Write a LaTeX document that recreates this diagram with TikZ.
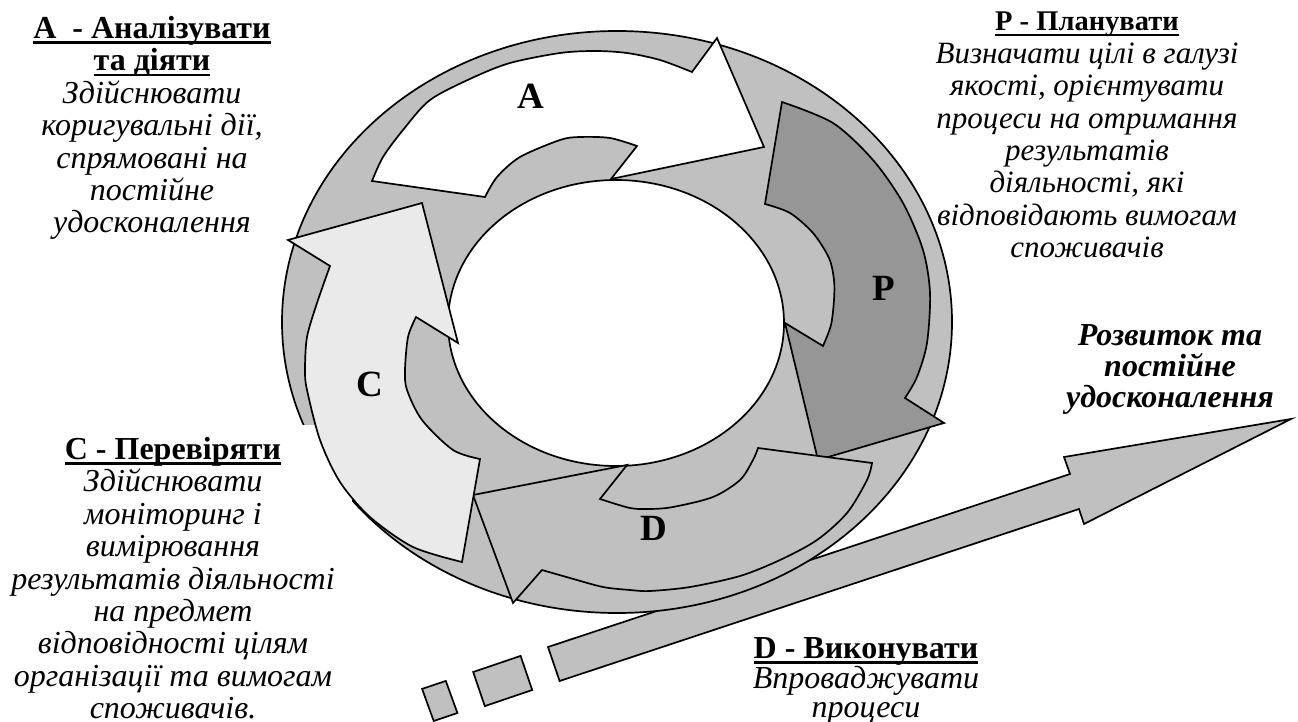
\documentclass[tikz,border=0pt]{standalone}
\usepackage{fontspec}
\setmainfont{Liberation Serif}

\definecolor{ringgray}{gray}{0.753}
\definecolor{pgray}{gray}{0.588}
\definecolor{cgray}{gray}{0.918}

% bold upright heading with a thick underline
\newcommand\hdline[1]{\setbox0=\hbox{\upshape\bfseries #1}\rlap{\rule[-5.5pt]{\wd0}{2.7pt}}\box0}

\tikzset{
  shape line/.style={draw=black, line width=1.7pt, line join=miter},
  label text/.style={inner sep=0pt, align=center, anchor=north,
    font=\fontsize{32}{32.4}\selectfont\itshape},
  letter/.style={inner sep=0pt, font=\fontsize{37}{37}\selectfont\bfseries},
}

\begin{document}
\begin{tikzpicture}[x=1pt,y=-1pt]
\useasboundingbox (0,0) rectangle (1298,722);

% trend arrow with its dashes
\draw[shape line, fill=ringgray] (548,647) -- (1070,474) -- (1064,457) -- (1291,419)
  -- (1084,524) -- (1079,509) -- (559.6,681) -- cycle;
\draw[shape line, fill=ringgray] (520.6,655.9) -- (473.2,672) -- (484.8,706.1) -- (532.2,690) -- cycle;
\draw[shape line, fill=ringgray] (445.8,680.9) -- (422.1,688.9) -- (433.7,721) -- (457.4,713) -- cycle;

% ring
\draw[shape line, fill=ringgray] (617,322) ellipse [x radius=335pt, y radius=291pt];
\draw[shape line, fill=white] (616,323) ellipse [x radius=168pt, y radius=143pt];
\fill[white] (265,425) rectangle (352,600);

% P arrow
\draw[shape line, fill=pgray]
  plot[smooth] coordinates {(782,102) (833,123) (873,160) (903,203) (923,250) (930,293) (927,343) (917,377) (905,398)}
  -- (944,423) -- (818,460) -- (785,323) -- (823,346)
  -- plot[smooth] coordinates {(823,346) (831,325) (834,300) (834,280) (829,258) (813,233) (790,213) (765,204)}
  -- cycle;

% D arrow
\draw[shape line, fill=ringgray] (758,448) -- (872,463)
  -- plot[smooth] coordinates {(872,463) (867,480) (847,513) (817,540) (780,560) (740,576) (690,587) (650,591) (630,590) (603,587) (570,578) (542,570)}
  -- (513,603) -- (473,495) -- (627,465) -- (600,499)
  -- plot[smooth] coordinates {(600,499) (630,508) (650,509) (673,507) (713,497) (740,480) (753,460) (758,448)}
  -- cycle;

% A arrow
\draw[shape line, fill=white]
  plot[smooth] coordinates {(372,181) (383,157) (403,130) (430,100) (472,78) (510,63) (560,53) (595,51) (627,53) (660,60) (692,72)}
  -- (717,38) -- (764,147) -- (611,179) -- (637,146)
  -- plot[smooth] coordinates {(637,146) (610,138) (580,137) (560,140) (520,157) (497,177) (485,197)}
  -- cycle;

% C arrow
\draw[shape line, fill=cgray] (288,240) -- (422,203) -- (458,343) -- (416,317)
  -- plot[smooth] coordinates {(416,317) (408,337) (405,370) (407,390) (422,420) (453,450) (480,459)}
  -- (462,562)
  -- plot[smooth] coordinates {(462,562) (413,547) (370,517) (340,482) (320,440) (307,390) (305,370) (307,337) (317,303) (330,266)}
  -- cycle;

% letters on the arrows
\node[letter] (la) at (531,96) {A};
\node[letter] (lp) at (884,288) {P};
\node[letter] (lc) at (370,384) {C};
\node[letter] (ld) at (654,528) {D};

% descriptions
\node[label text] (act) at (152,16) {\hdline{A~~- Аналізувати}\\ \hdline{та діяти}\\
  Здійснювати\\ коригувальні дії,\\ спрямовані на\\ постійне\\ удосконалення};
\node[label text, font=\fontsize{31}{32.4}\selectfont\itshape] (plan) at (1087,12)
  {\hdline{\fontsize{28.5}{32.4}\selectfont P - Планувати}\\
  Визначати цілі в галузі\\ якості, орієнтувати\\ процеси на отримання\\ результатів\\
  діяльності, які\\ відповідають вимогам\\ споживачів};
\node[label text, font=\fontsize{32}{31}\selectfont\bfseries\itshape] (grow) at (1170,324)
  {Розвиток та\\ постійне\\ удосконалення};
\node[label text] (check) at (173,437) {\hdline{C - Перевіряти}\\
  Здійснювати\\ моніторинг і\\ вимірювання\\ результатів діяльності\\ на предмет\\
  відповідності цілям\\ організації та вимогам\\ споживачів.};
\node[label text, font=\fontsize{32}{29}\selectfont\itshape] (do) at (866,637)
  {\hdline{D - Виконувати}\\ Впроваджувати\\ процеси};
\end{tikzpicture}
\end{document}
